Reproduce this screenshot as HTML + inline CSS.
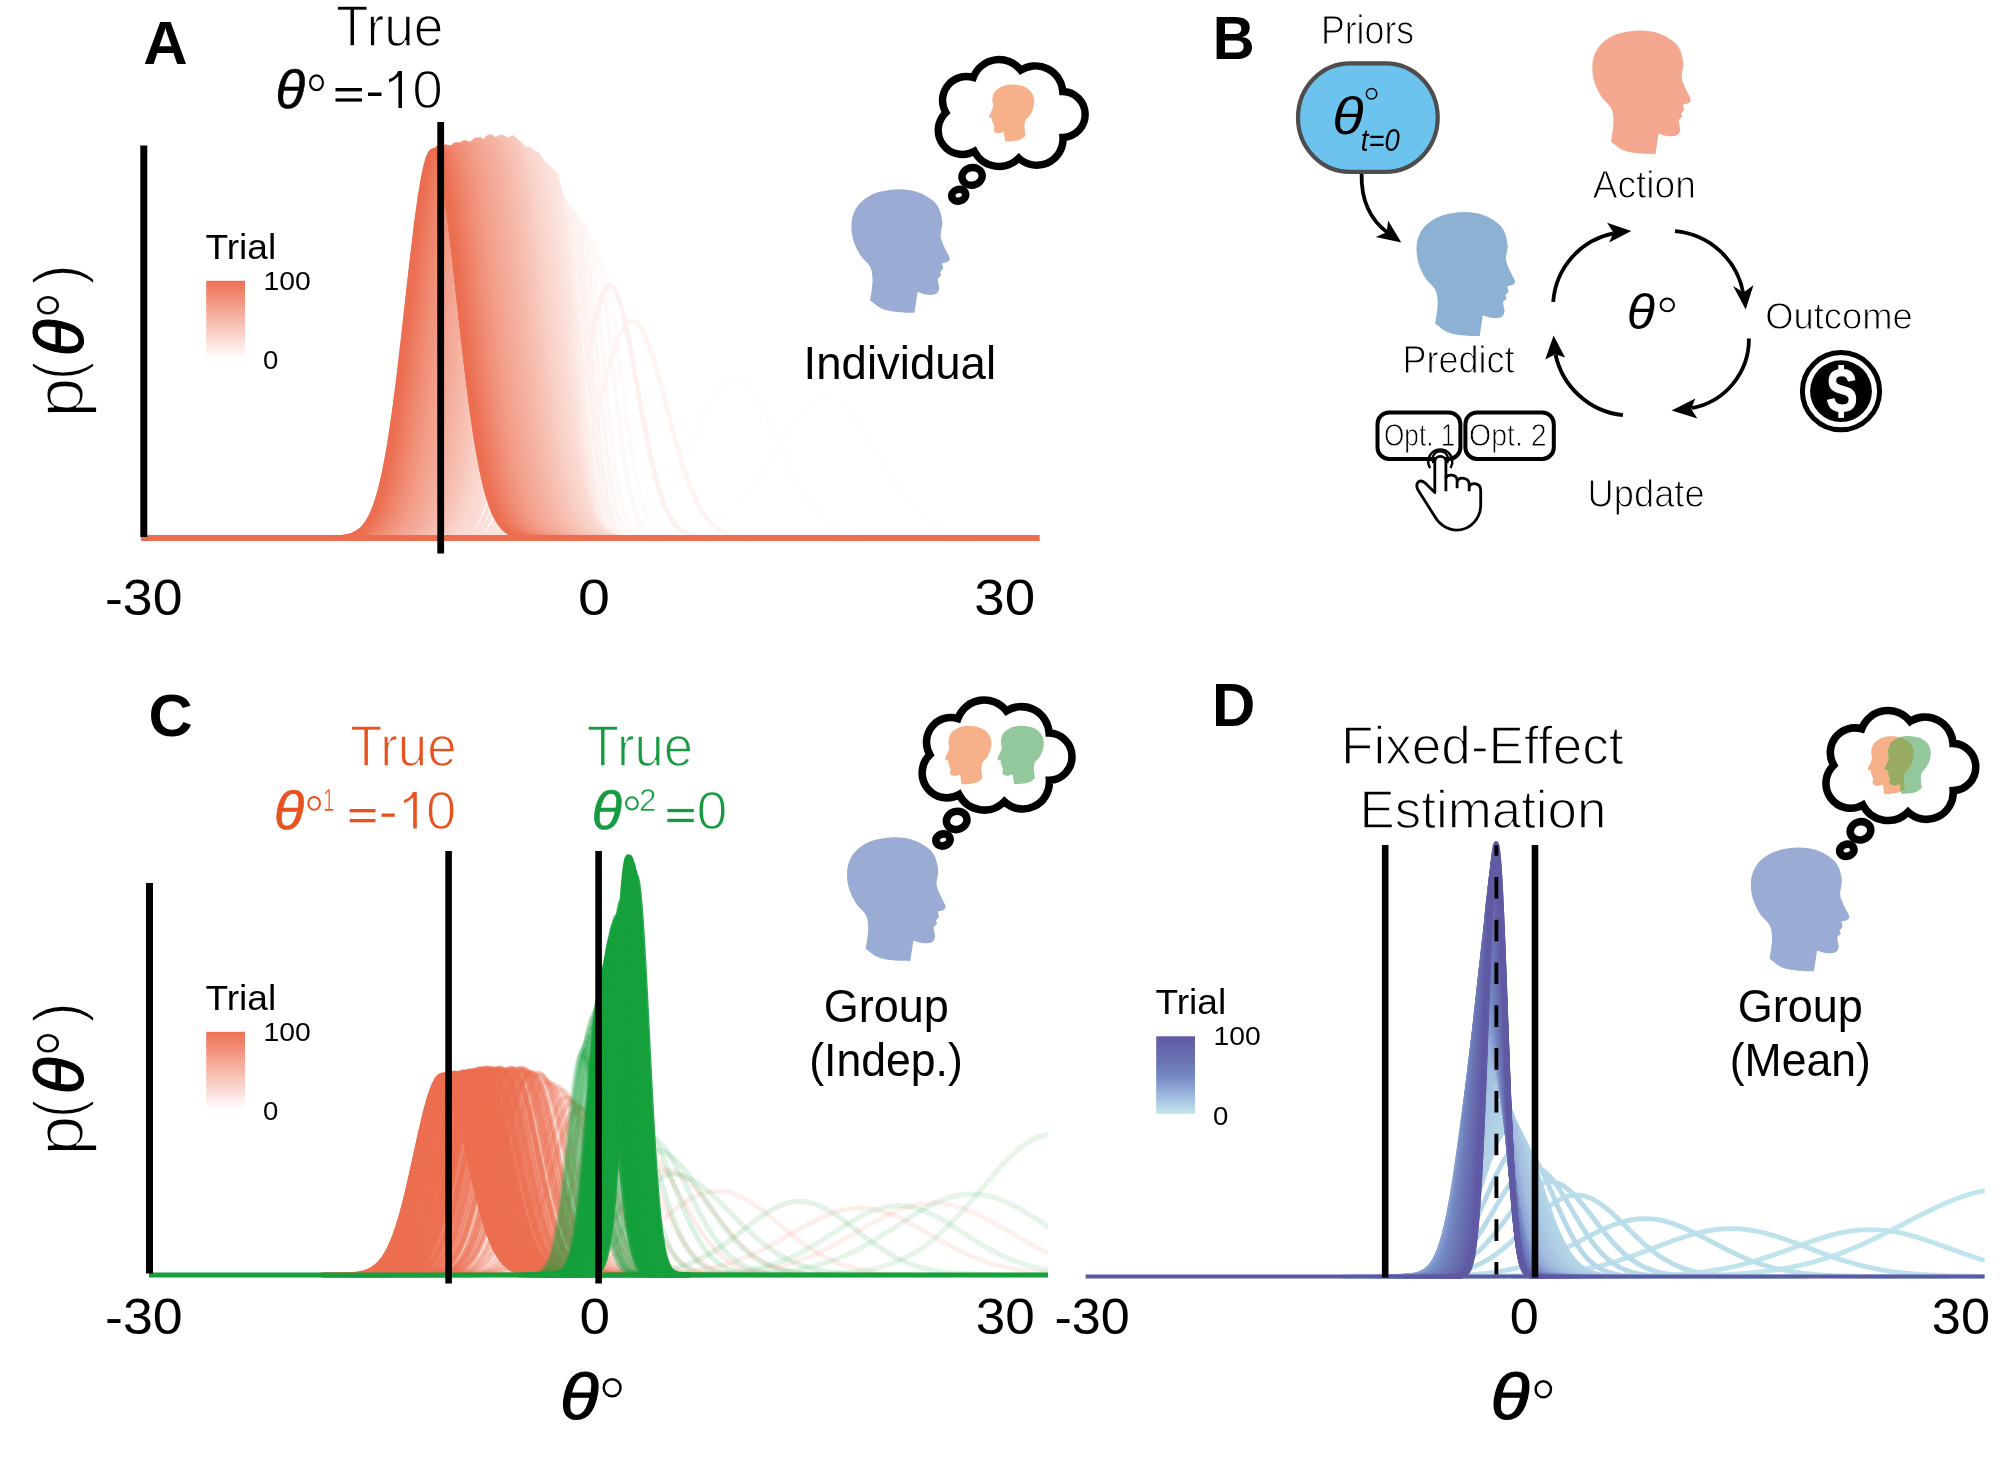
<!DOCTYPE html>
<html lang="en"><head><meta charset="utf-8"><title>Figure</title>
<style>html,body{margin:0;padding:0;background:#fff}svg{display:block;will-change:transform}text{font-family:"Liberation Sans",sans-serif}.g use{fill:none;vector-effect:non-scaling-stroke;stroke-linejoin:round}</style></head><body>
<svg width="2000" height="1475" viewBox="0 0 2000 1475">
<defs>
<path id="g" vector-effect="non-scaling-stroke" d="M-4.6,0 L-4.600,-0.0000 L-4.500,-0.0000 L-4.400,-0.0001 L-4.300,-0.0001 L-4.200,-0.0001 L-4.100,-0.0002 L-4.000,-0.0003 L-3.900,-0.0005 L-3.800,-0.0007 L-3.700,-0.0011 L-3.600,-0.0015 L-3.500,-0.0022 L-3.400,-0.0031 L-3.300,-0.0043 L-3.200,-0.0060 L-3.100,-0.0082 L-3.000,-0.0111 L-2.900,-0.0149 L-2.800,-0.0198 L-2.700,-0.0261 L-2.600,-0.0340 L-2.500,-0.0439 L-2.400,-0.0561 L-2.300,-0.0710 L-2.200,-0.0889 L-2.100,-0.1103 L-2.000,-0.1353 L-1.900,-0.1645 L-1.800,-0.1979 L-1.700,-0.2357 L-1.600,-0.2780 L-1.500,-0.3247 L-1.400,-0.3753 L-1.300,-0.4296 L-1.200,-0.4868 L-1.100,-0.5461 L-1.000,-0.6065 L-0.900,-0.6670 L-0.800,-0.7261 L-0.700,-0.7827 L-0.600,-0.8353 L-0.500,-0.8825 L-0.400,-0.9231 L-0.300,-0.9560 L-0.200,-0.9802 L-0.100,-0.9950 L0.000,-1.0000 L0.100,-0.9950 L0.200,-0.9802 L0.300,-0.9560 L0.400,-0.9231 L0.500,-0.8825 L0.600,-0.8353 L0.700,-0.7827 L0.800,-0.7261 L0.900,-0.6670 L1.000,-0.6065 L1.100,-0.5461 L1.200,-0.4868 L1.300,-0.4296 L1.400,-0.3753 L1.500,-0.3247 L1.600,-0.2780 L1.700,-0.2357 L1.800,-0.1979 L1.900,-0.1645 L2.000,-0.1353 L2.100,-0.1103 L2.200,-0.0889 L2.300,-0.0710 L2.400,-0.0561 L2.500,-0.0439 L2.600,-0.0340 L2.700,-0.0261 L2.800,-0.0198 L2.900,-0.0149 L3.000,-0.0111 L3.100,-0.0082 L3.200,-0.0060 L3.300,-0.0043 L3.400,-0.0031 L3.500,-0.0022 L3.600,-0.0015 L3.700,-0.0011 L3.800,-0.0007 L3.900,-0.0005 L4.000,-0.0003 L4.100,-0.0002 L4.200,-0.0001 L4.300,-0.0001 L4.400,-0.0001 L4.500,-0.0000 L4.600,-0.0000 L4.6,0"/>
<path id="gl" vector-effect="non-scaling-stroke" d="M-4.600,-0.0000 L-4.500,-0.0000 L-4.400,-0.0001 L-4.300,-0.0001 L-4.200,-0.0001 L-4.100,-0.0002 L-4.000,-0.0003 L-3.900,-0.0005 L-3.800,-0.0007 L-3.700,-0.0011 L-3.600,-0.0015 L-3.500,-0.0022 L-3.400,-0.0031 L-3.300,-0.0043 L-3.200,-0.0060 L-3.100,-0.0082 L-3.000,-0.0111 L-2.900,-0.0149 L-2.800,-0.0198 L-2.700,-0.0261 L-2.600,-0.0340 L-2.500,-0.0439 L-2.400,-0.0561 L-2.300,-0.0710 L-2.200,-0.0889 L-2.100,-0.1103 L-2.000,-0.1353 L-1.900,-0.1645 L-1.800,-0.1979 L-1.700,-0.2357 L-1.600,-0.2780 L-1.500,-0.3247 L-1.400,-0.3753 L-1.300,-0.4296 L-1.200,-0.4868 L-1.100,-0.5461 L-1.000,-0.6065 L-0.900,-0.6670 L-0.800,-0.7261 L-0.700,-0.7827 L-0.600,-0.8353 L-0.500,-0.8825 L-0.400,-0.9231 L-0.300,-0.9560 L-0.200,-0.9802 L-0.100,-0.9950 L-0.000,-1.0000"/>
<path id="gr" vector-effect="non-scaling-stroke" d="M0.000,-1.0000 L0.100,-0.9950 L0.200,-0.9802 L0.300,-0.9560 L0.400,-0.9231 L0.500,-0.8825 L0.600,-0.8353 L0.700,-0.7827 L0.800,-0.7261 L0.900,-0.6670 L1.000,-0.6065 L1.100,-0.5461 L1.200,-0.4868 L1.300,-0.4296 L1.400,-0.3753 L1.500,-0.3247 L1.600,-0.2780 L1.700,-0.2357 L1.800,-0.1979 L1.900,-0.1645 L2.000,-0.1353 L2.100,-0.1103 L2.200,-0.0889 L2.300,-0.0710 L2.400,-0.0561 L2.500,-0.0439 L2.600,-0.0340 L2.700,-0.0261 L2.800,-0.0198 L2.900,-0.0149 L3.000,-0.0111 L3.100,-0.0082 L3.200,-0.0060 L3.300,-0.0043 L3.400,-0.0031 L3.500,-0.0022 L3.600,-0.0015 L3.700,-0.0011 L3.800,-0.0007 L3.900,-0.0005 L4.000,-0.0003 L4.100,-0.0002 L4.200,-0.0001 L4.300,-0.0001 L4.400,-0.0001 L4.500,-0.0000 L4.600,-0.0000"/>
<path id="hd" d="M19.00,113.20 C19.33,111.00 20.60,103.88 21.00,100.00 C21.40,96.12 21.73,93.43 21.40,89.90 C21.07,86.37 21.02,82.52 19.00,78.80 C16.98,75.08 12.10,71.95 9.30,67.60 C6.50,63.25 3.75,57.67 2.20,52.70 C0.65,47.73 0.00,42.45 0.00,37.80 C0.00,33.15 0.50,28.98 2.20,24.80 C3.90,20.62 6.22,16.27 10.20,12.70 C14.18,9.13 19.73,5.52 26.10,3.40 C32.47,1.28 41.58,0.10 48.40,0.00 C55.22,-0.10 61.42,1.00 67.00,2.80 C72.58,4.60 78.17,7.92 81.90,10.80 C85.63,13.68 87.62,16.22 89.40,20.10 C91.18,23.98 92.35,29.60 92.60,34.10 C92.85,38.60 90.73,43.37 90.90,47.10 C91.07,50.83 92.15,52.93 93.60,56.50 C95.05,60.07 98.60,66.50 99.60,68.50 C99.67,69.00 100.27,70.62 100.00,71.50 C99.73,72.38 99.30,73.15 98.00,73.80 C96.70,74.45 93.17,75.13 92.20,75.40 L93.50,80.60 L90.30,84.70 L91.60,87.70 L87.90,91.40 C88.02,92.17 88.35,94.38 88.60,96.00 C88.85,97.62 89.63,99.47 89.40,101.10 C89.17,102.73 88.45,104.72 87.20,105.80 C85.95,106.88 84.02,107.38 81.90,107.60 C79.78,107.82 76.92,107.57 74.50,107.10 C72.08,106.63 68.58,105.18 67.40,104.80 L64.20,125.90 C61.57,125.80 53.82,125.95 48.40,125.30 C42.98,124.65 36.60,124.02 31.70,122.00 C26.80,119.98 21.12,114.67 19.00,113.20Z"/>
<path id="cl" d="M39.91,21.60 A27.47,27.47 0 0 1 87.38,14.28 A27.33,27.33 0 0 1 129.36,35.64 A22.95,22.95 0 0 1 129.61,81.52 A26.26,26.26 0 0 1 85.43,102.27 A27.82,27.82 0 0 1 41.01,95.44 A24.22,24.22 0 0 1 12.45,56.75 A23.96,23.96 0 0 1 39.91,21.60Z"/>
<g id="tb"><use href="#cl" fill="#fff" stroke="#000" stroke-width="7.4" stroke-linejoin="miter" stroke-miterlimit="10"/><ellipse cx="38.7" cy="120.5" rx="10.2" ry="8.8" fill="#fff" stroke="#000" stroke-width="7.4" transform="rotate(-15 38.7 120.5)"/><ellipse cx="25.3" cy="139.4" rx="7.0" ry="5.8" fill="#fff" stroke="#000" stroke-width="7.6" transform="rotate(-15 25.3 139.4)"/></g>
<linearGradient id="lgA" x1="0" y1="0" x2="0" y2="1"><stop offset="0" stop-color="#ee6f54"/><stop offset="1" stop-color="#ffffff"/></linearGradient>
<linearGradient id="lgD" x1="0" y1="0" x2="0" y2="1"><stop offset="0" stop-color="#6059a3"/><stop offset="0.33" stop-color="#6b74b5"/><stop offset="0.52" stop-color="#7489c3"/><stop offset="0.72" stop-color="#98afda"/><stop offset="1" stop-color="#c4e9ef"/></linearGradient>
<clipPath id="cpA"><rect x="138" y="100" width="904.5" height="445"/></clipPath>
<clipPath id="cpC"><rect x="146" y="840" width="902" height="440"/></clipPath>
<clipPath id="cpD"><rect x="1085.5" y="835" width="899.2" height="446"/></clipPath>
</defs>
<rect width="2000" height="1475" fill="#fff"/>
<g class="g" clip-path="url(#cpA)" stroke-width="4.6">
<use href="#g" transform="translate(825.5,538.0) scale(51.00,141.0)" stroke="#fffefd"/>
<use href="#g" transform="translate(734.9,538.0) scale(43.00,159.0)" stroke="#fffcfc"/>
<use href="#g" transform="translate(599.4,538.0) scale(21.00,278.0)" stroke="#fefbfa"/>
<use href="#g" transform="translate(592.6,538.0) scale(19.50,292.0)" stroke="#fef9f8"/>
<use href="#g" transform="translate(585.0,538.0) scale(17.50,312.0)" stroke="#fef8f6"/>
<use href="#g" transform="translate(579.2,538.0) scale(17.00,318.0)" stroke="#fef6f4"/>
<use href="#g" transform="translate(632.5,538.0) scale(34.00,217.0)" stroke="#fef5f3"/>
<use href="#g" transform="translate(573.9,538.0) scale(16.50,325.0)" stroke="#fdf3f1"/>
<use href="#g" transform="translate(568.7,538.0) scale(16.50,331.0)" stroke="#fdf2ef"/>
<use href="#g" transform="translate(609.9,538.0) scale(27.00,252.7)" stroke="#fdf0ee"/>
<use href="#g" transform="translate(563.0,538.0) scale(16.50,338.0)" stroke="#fdefec"/>
<use href="#g" transform="translate(560.2,538.0) scale(16.60,343.4)" stroke="#fdeeea"/>
<use href="#g" transform="translate(558.8,538.0) scale(16.70,347.0)" stroke="#fdece8"/>
<use href="#g" transform="translate(557.9,538.0) scale(16.80,349.9)" stroke="#fcebe6"/>
<use href="#g" transform="translate(553.9,538.0) scale(16.87,355.6)" stroke="#fce9e5"/>
<use href="#g" transform="translate(553.0,538.0) scale(16.93,359.8)" stroke="#fce8e3"/>
<use href="#g" transform="translate(553.8,538.0) scale(17.00,365.9)" stroke="#fce6e1"/>
<use href="#g" transform="translate(550.7,538.0) scale(18.00,369.0)" stroke="#fce5e0"/>
<use href="#g" transform="translate(547.4,538.0) scale(19.00,370.9)" stroke="#fbe3de"/>
<use href="#g" transform="translate(544.8,538.0) scale(20.00,373.6)" stroke="#fbe2dc"/>
<use href="#g" transform="translate(541.4,538.0) scale(21.33,377.0)" stroke="#fbe1da"/>
<use href="#g" transform="translate(539.0,538.0) scale(22.67,379.5)" stroke="#fbdfd8"/>
<use href="#g" transform="translate(536.4,538.0) scale(24.00,384.5)" stroke="#fbded7"/>
<use href="#g" transform="translate(533.1,538.0) scale(24.32,384.2)" stroke="#fadcd5"/>
<use href="#g" transform="translate(532.4,538.0) scale(24.64,386.2)" stroke="#fadbd3"/>
<use href="#g" transform="translate(530.2,538.0) scale(24.96,388.2)" stroke="#fad9d2"/>
<use href="#g" transform="translate(528.3,538.0) scale(25.28,389.1)" stroke="#fad8d0"/>
<use href="#g" transform="translate(525.8,538.0) scale(25.60,388.8)" stroke="#fad6ce"/>
<use href="#g" transform="translate(523.8,538.0) scale(25.55,390.5)" stroke="#f9d5cc"/>
<use href="#g" transform="translate(522.7,538.0) scale(25.50,390.3)" stroke="#f9d4ca"/>
<use href="#g" transform="translate(519.1,538.0) scale(25.45,392.1)" stroke="#f9d2c9"/>
<use href="#g" transform="translate(518.7,538.0) scale(25.40,394.9)" stroke="#f9d1c7"/>
<use href="#g" transform="translate(516.7,538.0) scale(25.38,396.0)" stroke="#f9cfc5"/>
<use href="#g" transform="translate(515.2,538.0) scale(25.36,397.7)" stroke="#f9cec4"/>
<use href="#g" transform="translate(513.6,538.0) scale(25.34,399.3)" stroke="#f8ccc2"/>
<use href="#g" transform="translate(512.8,538.0) scale(25.32,400.3)" stroke="#f8cbc0"/>
<use href="#g" transform="translate(511.7,538.0) scale(25.30,400.0)" stroke="#f8c9be"/>
<use href="#g" transform="translate(510.7,538.0) scale(25.30,399.0)" stroke="#f8c8bc"/>
<use href="#g" transform="translate(508.9,538.0) scale(25.30,396.8)" stroke="#f8c6bb"/>
<use href="#g" transform="translate(508.0,538.0) scale(25.30,397.9)" stroke="#f7c5b9"/>
<use href="#g" transform="translate(506.7,538.0) scale(25.30,398.0)" stroke="#f7c4b7"/>
<use href="#g" transform="translate(504.9,538.0) scale(25.30,398.6)" stroke="#f7c2b6"/>
<use href="#g" transform="translate(503.8,538.0) scale(25.30,400.3)" stroke="#f7c1b4"/>
<use href="#g" transform="translate(501.3,538.0) scale(25.30,400.0)" stroke="#f7bfb2"/>
<use href="#g" transform="translate(501.1,538.0) scale(25.30,401.1)" stroke="#f6beb0"/>
<use href="#g" transform="translate(498.1,538.0) scale(25.30,399.8)" stroke="#f6bcae"/>
<use href="#g" transform="translate(497.4,538.0) scale(25.30,397.8)" stroke="#f6bbad"/>
<use href="#g" transform="translate(495.8,538.0) scale(25.30,398.3)" stroke="#f6b9ab"/>
<use href="#g" transform="translate(495.6,538.0) scale(25.30,397.5)" stroke="#f6b8a9"/>
<use href="#g" transform="translate(493.6,538.0) scale(25.31,398.3)" stroke="#f6b6a8"/>
<use href="#g" transform="translate(492.4,538.0) scale(25.32,399.7)" stroke="#f5b5a6"/>
<use href="#g" transform="translate(491.3,538.0) scale(25.33,401.3)" stroke="#f5b4a4"/>
<use href="#g" transform="translate(489.1,538.0) scale(25.34,401.1)" stroke="#f5b2a2"/>
<use href="#g" transform="translate(487.2,538.0) scale(25.36,398.5)" stroke="#f5b1a0"/>
<use href="#g" transform="translate(486.4,538.0) scale(25.37,397.1)" stroke="#f5af9f"/>
<use href="#g" transform="translate(484.1,538.0) scale(25.38,396.7)" stroke="#f4ae9d"/>
<use href="#g" transform="translate(483.5,538.0) scale(25.39,396.1)" stroke="#f4ac9b"/>
<use href="#g" transform="translate(480.9,538.0) scale(25.40,397.8)" stroke="#f4ab9a"/>
<use href="#g" transform="translate(479.7,538.0) scale(25.41,398.7)" stroke="#f4a998"/>
<use href="#g" transform="translate(479.1,538.0) scale(25.43,398.3)" stroke="#f4a896"/>
<use href="#g" transform="translate(476.5,538.0) scale(25.44,398.3)" stroke="#f3a794"/>
<use href="#g" transform="translate(475.1,538.0) scale(25.46,397.4)" stroke="#f3a592"/>
<use href="#g" transform="translate(473.2,538.0) scale(25.47,395.8)" stroke="#f3a491"/>
<use href="#g" transform="translate(472.2,538.0) scale(25.49,394.2)" stroke="#f3a28f"/>
<use href="#g" transform="translate(469.4,538.0) scale(25.50,393.8)" stroke="#f3a18d"/>
<use href="#g" transform="translate(467.9,538.0) scale(25.52,393.3)" stroke="#f29f8c"/>
<use href="#g" transform="translate(468.3,538.0) scale(25.54,394.5)" stroke="#f29e8a"/>
<use href="#g" transform="translate(466.3,538.0) scale(25.56,394.5)" stroke="#f29c88"/>
<use href="#g" transform="translate(465.0,538.0) scale(25.58,395.7)" stroke="#f29b86"/>
<use href="#g" transform="translate(463.0,538.0) scale(25.60,395.2)" stroke="#f29a84"/>
<use href="#g" transform="translate(463.2,538.0) scale(25.62,393.0)" stroke="#f29883"/>
<use href="#g" transform="translate(462.1,538.0) scale(25.64,392.3)" stroke="#f19781"/>
<use href="#g" transform="translate(461.1,538.0) scale(25.66,391.2)" stroke="#f1957f"/>
<use href="#g" transform="translate(460.1,538.0) scale(25.68,391.7)" stroke="#f1947e"/>
<use href="#g" transform="translate(457.5,538.0) scale(25.70,391.3)" stroke="#f1927c"/>
<use href="#g" transform="translate(457.8,538.0) scale(25.72,393.7)" stroke="#f1917a"/>
<use href="#g" transform="translate(455.8,538.0) scale(25.74,393.4)" stroke="#f08f78"/>
<use href="#g" transform="translate(455.4,538.0) scale(25.76,392.9)" stroke="#f08e76"/>
<use href="#g" transform="translate(453.8,538.0) scale(25.78,391.9)" stroke="#f08c75"/>
<use href="#g" transform="translate(452.7,538.0) scale(25.80,390.9)" stroke="#f08b73"/>
<use href="#g" transform="translate(451.5,538.0) scale(25.82,389.4)" stroke="#f08a71"/>
<use href="#g" transform="translate(451.4,538.0) scale(25.84,388.4)" stroke="#ef8870"/>
<use href="#g" transform="translate(449.9,538.0) scale(25.86,390.0)" stroke="#ef876e"/>
<use href="#g" transform="translate(448.2,538.0) scale(25.88,390.1)" stroke="#ef856c"/>
<use href="#g" transform="translate(448.2,538.0) scale(25.90,390.9)" stroke="#ef846a"/>
<use href="#g" transform="translate(445.9,538.0) scale(25.91,391.3)" stroke="#ef8268"/>
<use href="#g" transform="translate(446.0,538.0) scale(25.91,390.1)" stroke="#ee8167"/>
<use href="#g" transform="translate(444.3,538.0) scale(25.92,389.2)" stroke="#ee7f65"/>
<use href="#g" transform="translate(444.4,538.0) scale(25.93,388.2)" stroke="#ee7e63"/>
<use href="#g" transform="translate(443.5,538.0) scale(25.93,387.1)" stroke="#ee7c62"/>
<use href="#g" transform="translate(441.4,538.0) scale(25.94,388.1)" stroke="#ee7b60"/>
<use href="#g" transform="translate(441.6,538.0) scale(25.95,388.7)" stroke="#ee7a5e"/>
<use href="#g" transform="translate(439.3,538.0) scale(25.95,389.1)" stroke="#ed785c"/>
<use href="#g" transform="translate(439.0,538.0) scale(25.96,389.7)" stroke="#ed775a"/>
<use href="#g" transform="translate(438.6,538.0) scale(25.97,390.4)" stroke="#ed7559"/>
<use href="#g" transform="translate(436.3,538.0) scale(25.97,388.4)" stroke="#ed7457"/>
<use href="#g" transform="translate(436.7,538.0) scale(25.98,387.6)" stroke="#ed7255"/>
<use href="#g" transform="translate(435.7,538.0) scale(25.99,386.2)" stroke="#ec7154"/>
<use href="#g" transform="translate(433.3,538.0) scale(25.99,386.1)" stroke="#ec6f52"/>
<use href="#g" transform="translate(433.1,538.0) scale(26.00,387.7)" stroke="#ec6e50"/>
</g>
<line x1="141" y1="538" x2="1039.7" y2="538" stroke="#ec6e50" stroke-width="6"/>
<line x1="143.8" y1="145.6" x2="143.8" y2="537" stroke="#000" stroke-width="7"/>
<line x1="440.7" y1="122" x2="440.7" y2="553.5" stroke="#000" stroke-width="6.8"/>
<text x="143.22" y="63.70" font-size="61.5" textLength="44.38" lengthAdjust="spacingAndGlyphs" font-weight="bold">A</text>
<text x="1212.67" y="58.60" font-size="61.5" textLength="41.96" lengthAdjust="spacingAndGlyphs" font-weight="bold">B</text>
<text x="148.59" y="736.10" font-size="60.0" textLength="44.17" lengthAdjust="spacingAndGlyphs" font-weight="bold">C</text>
<text x="1212.04" y="725.90" font-size="62.0" textLength="43.33" lengthAdjust="spacingAndGlyphs" font-weight="bold">D</text>
<text x="335.89" y="45.60" font-size="57.0" textLength="107.50" lengthAdjust="spacingAndGlyphs" stroke="#fff" stroke-width="1.48">True</text>
<text x="275.63" y="108.40" font-size="53.2" textLength="29.53" lengthAdjust="spacingAndGlyphs" font-style="italic" stroke="#000" stroke-width="0.60" stroke-linejoin="round">θ</text>
<ellipse cx="316.50" cy="82.75" rx="6.45" ry="7.40" fill="none" stroke="#000" stroke-width="2.10"/>
<rect x="335.5" y="88.0" width="26.5" height="3.4" fill="#000"/>
<rect x="335.5" y="98.4" width="26.5" height="3.2" fill="#000"/>
<rect x="368.0" y="92.5" width="13.5" height="3.5" fill="#000"/>
<path d="M398.4,71.0 L402.0,71.0 L402.0,108.0 L398.4,108.0 L398.4,76.2 Q394.2,80.6 389.0,82.5 L389.0,79.1 Q395.6,77.3 398.1,71.0 Z" fill="#000"/>
<text x="412.16" y="108.10" font-size="53.2" textLength="30.63" lengthAdjust="spacingAndGlyphs" stroke="#fff" stroke-width="1.38">0</text>
<text x="104.94" y="615.00" font-size="49.5" textLength="77.52" lengthAdjust="spacingAndGlyphs">-30</text>
<text x="578.06" y="615.00" font-size="49.5" textLength="31.93" lengthAdjust="spacingAndGlyphs">0</text>
<text x="974.22" y="615.00" font-size="49.5" textLength="60.88" lengthAdjust="spacingAndGlyphs">30</text>
<text x="205.48" y="258.50" font-size="35.9" textLength="70.77" lengthAdjust="spacingAndGlyphs">Trial</text>
<rect x="206.2" y="280.8" width="38.8" height="77.7" fill="url(#lgA)"/>
<text x="263.45" y="289.90" font-size="26.3" textLength="47.24" lengthAdjust="spacingAndGlyphs">100</text>
<text x="263.13" y="369.10" font-size="26.3" textLength="15.33" lengthAdjust="spacingAndGlyphs">0</text>
<text x="205.48" y="1009.50" font-size="35.9" textLength="70.77" lengthAdjust="spacingAndGlyphs">Trial</text>
<rect x="206.2" y="1031.8" width="38.8" height="77.7" fill="url(#lgA)"/>
<text x="263.45" y="1040.90" font-size="26.3" textLength="47.24" lengthAdjust="spacingAndGlyphs">100</text>
<text x="263.13" y="1120.10" font-size="26.3" textLength="15.33" lengthAdjust="spacingAndGlyphs">0</text>
<text x="1155.48" y="1014.00" font-size="35.9" textLength="70.77" lengthAdjust="spacingAndGlyphs">Trial</text>
<rect x="1156.2" y="1036.3" width="38.8" height="77.7" fill="url(#lgD)"/>
<text x="1213.45" y="1045.40" font-size="26.3" textLength="47.24" lengthAdjust="spacingAndGlyphs">100</text>
<text x="1213.13" y="1124.60" font-size="26.3" textLength="15.33" lengthAdjust="spacingAndGlyphs">0</text>
<g transform="translate(82.6,412.2) rotate(-90)">
<text x="-5.52" y="0.00" font-size="68.0" textLength="40.28" lengthAdjust="spacingAndGlyphs" stroke="#fff" stroke-width="1.77">p</text>
<text x="32.31" y="-3.00" font-size="66.0" textLength="18.42" lengthAdjust="spacingAndGlyphs" stroke="#fff" stroke-width="1.72">(</text>
<text x="55.88" y="0.70" font-size="69.0" textLength="36.80" lengthAdjust="spacingAndGlyphs" font-style="italic" stroke="#000" stroke-width="1.20" stroke-linejoin="round">θ</text>
<ellipse cx="106.95" cy="-34.60" rx="8.05" ry="9.70" fill="none" stroke="#000" stroke-width="2.60"/>
<text x="127.33" y="-3.00" font-size="66.0" textLength="20.55" lengthAdjust="spacingAndGlyphs" stroke="#fff" stroke-width="1.72">)</text>
</g>
<g transform="translate(82.6,1150.2) rotate(-90)">
<text x="-5.52" y="0.00" font-size="68.0" textLength="40.28" lengthAdjust="spacingAndGlyphs" stroke="#fff" stroke-width="1.77">p</text>
<text x="32.31" y="-3.00" font-size="66.0" textLength="18.42" lengthAdjust="spacingAndGlyphs" stroke="#fff" stroke-width="1.72">(</text>
<text x="55.88" y="0.70" font-size="69.0" textLength="36.80" lengthAdjust="spacingAndGlyphs" font-style="italic" stroke="#000" stroke-width="1.20" stroke-linejoin="round">θ</text>
<ellipse cx="106.95" cy="-34.60" rx="8.05" ry="9.70" fill="none" stroke="#000" stroke-width="2.60"/>
<text x="127.33" y="-3.00" font-size="66.0" textLength="20.55" lengthAdjust="spacingAndGlyphs" stroke="#fff" stroke-width="1.72">)</text>
</g>
<use href="#hd" transform="translate(851.40,189.20) scale(0.9820)" fill="#9bacd4"/>
<use href="#tb" x="933.4" y="55.9"/>
<use href="#hd" transform="translate(1034.20,84.50) scale(-0.4520,0.4520)" fill="#f6b08a"/>
<text x="803.61" y="378.90" font-size="47.0" textLength="192.40" lengthAdjust="spacingAndGlyphs">Individual</text>
<text x="1320.96" y="43.90" font-size="39.8" textLength="93.16" lengthAdjust="spacingAndGlyphs" stroke="#fff" stroke-width="1.03">Priors</text>
<rect x="1298" y="63.3" width="139.7" height="108.6" rx="52" ry="54.3" fill="#6cc4ee" stroke="#4d4d4d" stroke-width="4.2"/>
<text x="1332.17" y="133.60" font-size="52.5" textLength="31.32" lengthAdjust="spacingAndGlyphs" font-style="italic">θ</text>
<ellipse cx="1371.55" cy="93.75" rx="5.20" ry="5.20" fill="none" stroke="#000" stroke-width="1.50"/>
<text x="1360.76" y="151.00" font-size="31.0" textLength="38.96" lengthAdjust="spacingAndGlyphs" font-style="italic">t=0</text>
<path d="M1361.6,173.9 C1361,200 1369,219 1388,233" fill="none" stroke="#000" stroke-width="3.8"/>
<path d="M1401.3,242.5 L1375.7,237 L1386.7,232.3 L1388.1,220.5 Z" fill="#000"/>
<use href="#hd" transform="translate(1592.30,30.40) scale(0.9830)" fill="#f4a78f"/>
<text x="1592.63" y="197.50" font-size="38.5" textLength="103.26" lengthAdjust="spacingAndGlyphs" stroke="#fff" stroke-width="1.00">Action</text>
<use href="#hd" transform="translate(1416.50,212.10) scale(0.9840)" fill="#8cb1d3"/>
<text x="1402.53" y="373.10" font-size="39.5" textLength="112.11" lengthAdjust="spacingAndGlyphs" stroke="#fff" stroke-width="1.03">Predict</text>
<text x="1765.20" y="328.70" font-size="37.6" textLength="147.49" lengthAdjust="spacingAndGlyphs" stroke="#fff" stroke-width="0.98">Outcome</text>
<text x="1587.61" y="506.60" font-size="38.5" textLength="117.01" lengthAdjust="spacingAndGlyphs" stroke="#fff" stroke-width="1.00">Update</text>
<path d="M1553.2,301.8 A75.4,75.4 0 0 1 1613.4,233.4" fill="none" stroke="#000" stroke-width="3.8"/>
<path d="M1675.0,231.1 A76.1,76.1 0 0 1 1743.4,294.0" fill="none" stroke="#000" stroke-width="3.8"/>
<path d="M1748.9,338.6 A69.9,69.9 0 0 1 1691.5,408.1" fill="none" stroke="#000" stroke-width="3.8"/>
<path d="M1622.9,415.2 A77.5,77.5 0 0 1 1555.5,354.5" fill="none" stroke="#000" stroke-width="3.8"/>
<path d="M1631.3,231.1 L1607.1,222.7 L1613.4,232.5 L1609.2,242.6 Z" fill="#000"/>
<path d="M1745.7,309.6 L1733.1,286.1 L1743.6,292.4 L1753.5,285.0 Z" fill="#000"/>
<path d="M1671.6,410.6 L1695.3,398.4 L1691.1,408.9 L1697.4,418.4 Z" fill="#000"/>
<path d="M1553.6,335.4 L1545.2,359.6 L1555.3,354.3 L1565.1,357.5 Z" fill="#000"/>
<text x="1626.65" y="329.10" font-size="50.0" textLength="28.19" lengthAdjust="spacingAndGlyphs" font-style="italic">θ</text>
<ellipse cx="1667.30" cy="304.95" rx="6.70" ry="6.35" fill="none" stroke="#000" stroke-width="2.00"/>
<circle cx="1841" cy="391.2" r="38.6" fill="none" stroke="#000" stroke-width="5"/>
<circle cx="1841" cy="391.2" r="30.9" fill="#000"/>
<text x="1826.19" y="411.30" font-size="59.5" textLength="31.24" lengthAdjust="spacingAndGlyphs" font-weight="bold" fill="#fff" stroke="#fff" stroke-width="1.20" stroke-linejoin="round">S</text>
<rect x="1838.3" y="365" width="5.7" height="7" fill="#fff"/><rect x="1838.3" y="410" width="5.7" height="7.9" fill="#fff"/>
<rect x="1377.5" y="412.5" width="82.9" height="46.4" rx="11.5" fill="#fff" stroke="#000" stroke-width="4"/>
<rect x="1465.4" y="412.5" width="88.4" height="46.4" rx="11.5" fill="#fff" stroke="#000" stroke-width="4"/>
<text x="1384.06" y="446.20" font-size="31.6" textLength="71.12" lengthAdjust="spacingAndGlyphs" stroke="#fff" stroke-width="0.82">Opt. 1</text>
<text x="1469.05" y="446.20" font-size="31.6" textLength="77.60" lengthAdjust="spacingAndGlyphs" stroke="#fff" stroke-width="0.82">Opt. 2</text>
<path d="M1430.1,468.0 A12.1,12.1 0 1 1 1450.5,468.0" fill="none" stroke="#000" stroke-width="2.4"/>
<path d="M1433.5,463.0 A7.8,7.8 0 1 1 1447.1,463.0" fill="none" stroke="#000" stroke-width="2.4"/>
<path d="M1434.8,492.4 L1434.8,461.9 C1434.8,454.6 1445.9,454.6 1445.9,461.9 L1445.9,478.2 C1447.7,473.5 1457.1,474.0 1457.1,480.8 L1457.1,481.4 C1459.2,476.4 1469.2,477.2 1469.2,484.5 L1469.2,486.6 C1471.8,481.9 1480.7,482.9 1480.7,490.3 L1480.7,505.0 C1480.7,517.6 1471.3,529.7 1457.1,530.2 C1446.1,530.2 1437.7,522.8 1433.5,514.4 L1418.8,491.3 C1414.1,484.0 1418.8,478.2 1425.1,482.9 L1434.8,492.4 Z" fill="#fff" stroke="#000" stroke-width="2.8" stroke-linejoin="round"/>
<path d="M1445.9,478.2 L1445.9,491.3 M1457.1,481.4 L1457.1,488.2 M1469.2,486.6 L1469.2,491.3" fill="none" stroke="#000" stroke-width="2.8" stroke-linecap="butt"/>
<g class="g" clip-path="url(#cpC)" stroke-width="4.8">
<use href="#g" transform="translate(933.3,1275.0) scale(75.00,72.0)" stroke="#ec6e50" stroke-opacity="0.10"/>
<use href="#g" transform="translate(860.0,1275.0) scale(70.00,67.0)" stroke="#ec6e50" stroke-opacity="0.11"/>
<use href="#g" transform="translate(717.9,1275.0) scale(61.00,84.0)" stroke="#ec6e50" stroke-opacity="0.11"/>
<use href="#gl" transform="translate(665.5,1275.0) scale(46.00,105.0)" stroke="#ec6e50" stroke-opacity="0.12"/>
<use href="#gr" transform="translate(665.5,1275.0) scale(48.00,105.0)" stroke="#ec6e50" stroke-opacity="0.12"/>
<use href="#gl" transform="translate(640.1,1275.0) scale(38.00,125.0)" stroke="#ec6e50" stroke-opacity="0.12"/>
<use href="#gr" transform="translate(640.1,1275.0) scale(42.00,125.0)" stroke="#ec6e50" stroke-opacity="0.12"/>
<use href="#gl" transform="translate(620.6,1275.0) scale(34.00,140.0)" stroke="#ec6e50" stroke-opacity="0.13"/>
<use href="#gr" transform="translate(620.6,1275.0) scale(37.00,140.0)" stroke="#ec6e50" stroke-opacity="0.13"/>
<use href="#gl" transform="translate(605.7,1275.0) scale(32.00,150.0)" stroke="#ec6e50" stroke-opacity="0.13"/>
<use href="#gr" transform="translate(605.7,1275.0) scale(34.00,150.0)" stroke="#ec6e50" stroke-opacity="0.13"/>
<use href="#gl" transform="translate(593.7,1275.0) scale(31.00,158.0)" stroke="#ec6e50" stroke-opacity="0.14"/>
<use href="#gr" transform="translate(593.7,1275.0) scale(32.00,158.0)" stroke="#ec6e50" stroke-opacity="0.14"/>
<use href="#gl" transform="translate(589.9,1275.0) scale(30.50,162.0)" stroke="#ec6e50" stroke-opacity="0.14"/>
<use href="#gr" transform="translate(589.9,1275.0) scale(31.00,162.0)" stroke="#ec6e50" stroke-opacity="0.14"/>
<use href="#g" transform="translate(582.5,1275.0) scale(30.00,166.0)" stroke="#ec6e50" stroke-opacity="0.15"/>
<use href="#g" transform="translate(580.1,1275.0) scale(29.67,167.7)" stroke="#ec6e50" stroke-opacity="0.16"/>
<use href="#g" transform="translate(579.7,1275.0) scale(29.33,168.4)" stroke="#ec6e50" stroke-opacity="0.16"/>
<use href="#g" transform="translate(572.5,1275.0) scale(29.00,171.4)" stroke="#ec6e50" stroke-opacity="0.17"/>
<use href="#g" transform="translate(573.0,1275.0) scale(28.67,173.8)" stroke="#ec6e50" stroke-opacity="0.18"/>
<use href="#g" transform="translate(567.2,1275.0) scale(28.33,176.8)" stroke="#ec6e50" stroke-opacity="0.18"/>
<use href="#g" transform="translate(565.8,1275.0) scale(28.00,178.7)" stroke="#ec6e50" stroke-opacity="0.19"/>
<use href="#g" transform="translate(561.7,1275.0) scale(27.67,184.5)" stroke="#ec6e50" stroke-opacity="0.20"/>
<use href="#g" transform="translate(558.1,1275.0) scale(27.33,187.9)" stroke="#ec6e50" stroke-opacity="0.21"/>
<use href="#g" transform="translate(553.1,1275.0) scale(27.00,190.8)" stroke="#ec6e50" stroke-opacity="0.21"/>
<use href="#g" transform="translate(548.9,1275.0) scale(26.80,191.7)" stroke="#ec6e50" stroke-opacity="0.22"/>
<use href="#g" transform="translate(546.9,1275.0) scale(26.60,193.8)" stroke="#ec6e50" stroke-opacity="0.23"/>
<use href="#g" transform="translate(544.1,1275.0) scale(26.40,195.6)" stroke="#ec6e50" stroke-opacity="0.24"/>
<use href="#g" transform="translate(540.7,1275.0) scale(26.20,199.9)" stroke="#ec6e50" stroke-opacity="0.24"/>
<use href="#g" transform="translate(539.3,1275.0) scale(26.15,201.7)" stroke="#ec6e50" stroke-opacity="0.25"/>
<use href="#g" transform="translate(537.7,1275.0) scale(26.10,202.2)" stroke="#ec6e50" stroke-opacity="0.26"/>
<use href="#g" transform="translate(531.9,1275.0) scale(26.05,203.1)" stroke="#ec6e50" stroke-opacity="0.27"/>
<use href="#g" transform="translate(531.1,1275.0) scale(26.00,202.1)" stroke="#ec6e50" stroke-opacity="0.28"/>
<use href="#g" transform="translate(531.9,1275.0) scale(25.95,202.1)" stroke="#ec6e50" stroke-opacity="0.28"/>
<use href="#g" transform="translate(529.2,1275.0) scale(25.90,202.8)" stroke="#ec6e50" stroke-opacity="0.29"/>
<use href="#g" transform="translate(528.6,1275.0) scale(25.85,202.1)" stroke="#ec6e50" stroke-opacity="0.30"/>
<use href="#g" transform="translate(525.4,1275.0) scale(25.80,204.3)" stroke="#ec6e50" stroke-opacity="0.31"/>
<use href="#g" transform="translate(524.9,1275.0) scale(25.75,205.6)" stroke="#ec6e50" stroke-opacity="0.32"/>
<use href="#g" transform="translate(522.8,1275.0) scale(25.70,205.5)" stroke="#ec6e50" stroke-opacity="0.33"/>
<use href="#g" transform="translate(522.1,1275.0) scale(25.65,207.2)" stroke="#ec6e50" stroke-opacity="0.33"/>
<use href="#g" transform="translate(518.8,1275.0) scale(25.60,206.9)" stroke="#ec6e50" stroke-opacity="0.34"/>
<use href="#g" transform="translate(520.9,1275.0) scale(25.60,206.0)" stroke="#ec6e50" stroke-opacity="0.35"/>
<use href="#g" transform="translate(519.0,1275.0) scale(25.60,203.9)" stroke="#ec6e50" stroke-opacity="0.36"/>
<use href="#g" transform="translate(516.5,1275.0) scale(25.60,205.7)" stroke="#ec6e50" stroke-opacity="0.37"/>
<use href="#g" transform="translate(512.3,1275.0) scale(25.60,205.3)" stroke="#ec6e50" stroke-opacity="0.38"/>
<use href="#g" transform="translate(511.8,1275.0) scale(25.60,206.7)" stroke="#ec6e50" stroke-opacity="0.39"/>
<use href="#g" transform="translate(511.1,1275.0) scale(25.60,207.1)" stroke="#ec6e50" stroke-opacity="0.40"/>
<use href="#g" transform="translate(511.3,1275.0) scale(25.60,206.0)" stroke="#ec6e50" stroke-opacity="0.40"/>
<use href="#g" transform="translate(506.3,1275.0) scale(25.60,205.4)" stroke="#ec6e50" stroke-opacity="0.41"/>
<use href="#g" transform="translate(505.1,1275.0) scale(25.60,204.4)" stroke="#ec6e50" stroke-opacity="0.42"/>
<use href="#g" transform="translate(507.7,1275.0) scale(25.60,205.5)" stroke="#ec6e50" stroke-opacity="0.43"/>
<use href="#g" transform="translate(502.0,1275.0) scale(25.60,205.1)" stroke="#ec6e50" stroke-opacity="0.44"/>
<use href="#g" transform="translate(501.6,1275.0) scale(25.60,205.5)" stroke="#ec6e50" stroke-opacity="0.45"/>
<use href="#g" transform="translate(500.2,1275.0) scale(25.60,207.1)" stroke="#ec6e50" stroke-opacity="0.46"/>
<use href="#g" transform="translate(499.9,1275.0) scale(25.60,206.9)" stroke="#ec6e50" stroke-opacity="0.47"/>
<use href="#g" transform="translate(496.5,1275.0) scale(25.60,206.6)" stroke="#ec6e50" stroke-opacity="0.48"/>
<use href="#g" transform="translate(494.7,1275.0) scale(25.60,206.2)" stroke="#ec6e50" stroke-opacity="0.49"/>
<use href="#g" transform="translate(496.0,1275.0) scale(25.60,204.9)" stroke="#ec6e50" stroke-opacity="0.50"/>
<use href="#g" transform="translate(491.5,1275.0) scale(25.60,204.2)" stroke="#ec6e50" stroke-opacity="0.51"/>
<use href="#g" transform="translate(491.4,1275.0) scale(25.60,205.4)" stroke="#ec6e50" stroke-opacity="0.52"/>
<use href="#g" transform="translate(491.8,1275.0) scale(25.60,205.8)" stroke="#ec6e50" stroke-opacity="0.53"/>
<use href="#g" transform="translate(490.4,1275.0) scale(25.60,207.1)" stroke="#ec6e50" stroke-opacity="0.54"/>
<use href="#g" transform="translate(487.2,1275.0) scale(25.60,206.9)" stroke="#ec6e50" stroke-opacity="0.55"/>
<use href="#g" transform="translate(486.0,1275.0) scale(25.60,207.2)" stroke="#ec6e50" stroke-opacity="0.56"/>
<use href="#g" transform="translate(484.6,1275.0) scale(25.62,206.1)" stroke="#ec6e50" stroke-opacity="0.57"/>
<use href="#g" transform="translate(483.7,1275.0) scale(25.63,204.2)" stroke="#ec6e50" stroke-opacity="0.58"/>
<use href="#g" transform="translate(483.0,1275.0) scale(25.65,204.7)" stroke="#ec6e50" stroke-opacity="0.59"/>
<use href="#g" transform="translate(479.8,1275.0) scale(25.67,204.4)" stroke="#ec6e50" stroke-opacity="0.60"/>
<use href="#g" transform="translate(480.4,1275.0) scale(25.68,206.1)" stroke="#ec6e50" stroke-opacity="0.61"/>
<use href="#g" transform="translate(481.8,1275.0) scale(25.70,205.7)" stroke="#ec6e50" stroke-opacity="0.62"/>
<use href="#g" transform="translate(480.6,1275.0) scale(25.72,206.6)" stroke="#ec6e50" stroke-opacity="0.63"/>
<use href="#g" transform="translate(476.5,1275.0) scale(25.73,205.3)" stroke="#ec6e50" stroke-opacity="0.64"/>
<use href="#g" transform="translate(474.8,1275.0) scale(25.75,204.9)" stroke="#ec6e50" stroke-opacity="0.65"/>
<use href="#g" transform="translate(476.3,1275.0) scale(25.77,204.1)" stroke="#ec6e50" stroke-opacity="0.66"/>
<use href="#g" transform="translate(475.9,1275.0) scale(25.78,203.3)" stroke="#ec6e50" stroke-opacity="0.67"/>
<use href="#g" transform="translate(474.6,1275.0) scale(25.80,203.5)" stroke="#ec6e50" stroke-opacity="0.68"/>
<use href="#g" transform="translate(470.5,1275.0) scale(25.82,204.3)" stroke="#ec6e50" stroke-opacity="0.69"/>
<use href="#g" transform="translate(469.0,1275.0) scale(25.83,204.0)" stroke="#ec6e50" stroke-opacity="0.70"/>
<use href="#g" transform="translate(471.6,1275.0) scale(25.85,203.7)" stroke="#ec6e50" stroke-opacity="0.71"/>
<use href="#g" transform="translate(467.3,1275.0) scale(25.87,203.1)" stroke="#ec6e50" stroke-opacity="0.72"/>
<use href="#g" transform="translate(470.0,1275.0) scale(25.88,202.2)" stroke="#ec6e50" stroke-opacity="0.73"/>
<use href="#g" transform="translate(464.9,1275.0) scale(25.90,202.6)" stroke="#ec6e50" stroke-opacity="0.74"/>
<use href="#g" transform="translate(464.3,1275.0) scale(25.92,202.4)" stroke="#ec6e50" stroke-opacity="0.75"/>
<use href="#g" transform="translate(465.9,1275.0) scale(25.93,202.8)" stroke="#ec6e50" stroke-opacity="0.76"/>
<use href="#g" transform="translate(466.2,1275.0) scale(25.95,203.1)" stroke="#ec6e50" stroke-opacity="0.77"/>
<use href="#g" transform="translate(464.4,1275.0) scale(25.97,202.5)" stroke="#ec6e50" stroke-opacity="0.78"/>
<use href="#g" transform="translate(463.2,1275.0) scale(25.98,203.3)" stroke="#ec6e50" stroke-opacity="0.79"/>
<use href="#g" transform="translate(461.9,1275.0) scale(26.00,201.7)" stroke="#ec6e50" stroke-opacity="0.80"/>
<use href="#g" transform="translate(461.0,1275.0) scale(26.02,202.2)" stroke="#ec6e50" stroke-opacity="0.81"/>
<use href="#g" transform="translate(456.7,1275.0) scale(26.03,200.2)" stroke="#ec6e50" stroke-opacity="0.82"/>
<use href="#g" transform="translate(458.0,1275.0) scale(26.05,201.1)" stroke="#ec6e50" stroke-opacity="0.83"/>
<use href="#g" transform="translate(455.4,1275.0) scale(26.07,200.3)" stroke="#ec6e50" stroke-opacity="0.85"/>
<use href="#g" transform="translate(454.4,1275.0) scale(26.08,202.0)" stroke="#ec6e50" stroke-opacity="0.86"/>
<use href="#g" transform="translate(455.8,1275.0) scale(26.10,201.9)" stroke="#ec6e50" stroke-opacity="0.87"/>
<use href="#g" transform="translate(452.9,1275.0) scale(26.12,201.7)" stroke="#ec6e50" stroke-opacity="0.88"/>
<use href="#g" transform="translate(451.8,1275.0) scale(26.13,200.8)" stroke="#ec6e50" stroke-opacity="0.89"/>
<use href="#g" transform="translate(449.4,1275.0) scale(26.15,199.9)" stroke="#ec6e50" stroke-opacity="0.90"/>
<use href="#g" transform="translate(452.7,1275.0) scale(26.17,199.0)" stroke="#ec6e50" stroke-opacity="0.91"/>
<use href="#g" transform="translate(450.5,1275.0) scale(26.18,198.5)" stroke="#ec6e50" stroke-opacity="0.92"/>
<use href="#g" transform="translate(449.2,1275.0) scale(26.20,200.3)" stroke="#ec6e50" stroke-opacity="0.93"/>
<use href="#g" transform="translate(448.1,1275.0) scale(26.22,200.5)" stroke="#ec6e50" stroke-opacity="0.94"/>
<use href="#g" transform="translate(446.1,1275.0) scale(26.23,201.1)" stroke="#ec6e50" stroke-opacity="0.96"/>
<use href="#g" transform="translate(447.1,1275.0) scale(26.25,199.8)" stroke="#ec6e50" stroke-opacity="0.97"/>
<use href="#g" transform="translate(442.2,1275.0) scale(26.27,200.0)" stroke="#ec6e50" stroke-opacity="0.98"/>
<use href="#g" transform="translate(445.1,1275.0) scale(26.28,198.5)" stroke="#ec6e50" stroke-opacity="0.99"/>
<use href="#g" transform="translate(442.0,1275.0) scale(26.30,199.0)" stroke="#ec6e50" stroke-opacity="1.00"/>
</g>
<g class="g" clip-path="url(#cpC)" stroke-width="5.2">
<use href="#g" transform="translate(1053.0,1275.0) scale(72.00,141.0)" stroke="#15a03c" stroke-opacity="0.10"/>
<use href="#g" transform="translate(971.8,1275.0) scale(75.00,81.0)" stroke="#15a03c" stroke-opacity="0.11"/>
<use href="#g" transform="translate(898.3,1275.0) scale(65.00,69.3)" stroke="#15a03c" stroke-opacity="0.11"/>
<use href="#g" transform="translate(799.6,1275.0) scale(57.00,73.5)" stroke="#15a03c" stroke-opacity="0.12"/>
<use href="#gl" transform="translate(671.5,1275.0) scale(38.00,101.0)" stroke="#15a03c" stroke-opacity="0.12"/>
<use href="#gr" transform="translate(671.5,1275.0) scale(60.00,101.0)" stroke="#15a03c" stroke-opacity="0.12"/>
<use href="#gl" transform="translate(655.0,1275.0) scale(32.00,125.0)" stroke="#15a03c" stroke-opacity="0.13"/>
<use href="#gr" transform="translate(655.0,1275.0) scale(50.00,125.0)" stroke="#15a03c" stroke-opacity="0.13"/>
<use href="#gl" transform="translate(646.1,1275.0) scale(28.00,140.0)" stroke="#15a03c" stroke-opacity="0.13"/>
<use href="#gr" transform="translate(646.1,1275.0) scale(42.00,140.0)" stroke="#15a03c" stroke-opacity="0.13"/>
<use href="#gl" transform="translate(637.1,1275.0) scale(25.00,152.0)" stroke="#15a03c" stroke-opacity="0.14"/>
<use href="#gr" transform="translate(637.1,1275.0) scale(36.00,152.0)" stroke="#15a03c" stroke-opacity="0.14"/>
<use href="#gl" transform="translate(628.1,1275.0) scale(22.00,165.0)" stroke="#15a03c" stroke-opacity="0.14"/>
<use href="#gr" transform="translate(628.1,1275.0) scale(31.00,165.0)" stroke="#15a03c" stroke-opacity="0.14"/>
<use href="#gl" transform="translate(617.6,1275.0) scale(19.00,180.0)" stroke="#15a03c" stroke-opacity="0.15"/>
<use href="#gr" transform="translate(617.6,1275.0) scale(27.00,180.0)" stroke="#15a03c" stroke-opacity="0.15"/>
<use href="#gl" transform="translate(607.2,1275.0) scale(17.00,195.0)" stroke="#15a03c" stroke-opacity="0.16"/>
<use href="#gr" transform="translate(607.2,1275.0) scale(23.00,195.0)" stroke="#15a03c" stroke-opacity="0.16"/>
<use href="#gl" transform="translate(598.2,1275.0) scale(16.00,207.0)" stroke="#15a03c" stroke-opacity="0.16"/>
<use href="#gr" transform="translate(598.2,1275.0) scale(19.50,207.0)" stroke="#15a03c" stroke-opacity="0.16"/>
<use href="#gl" transform="translate(590.7,1275.0) scale(15.00,214.0)" stroke="#15a03c" stroke-opacity="0.17"/>
<use href="#gr" transform="translate(590.7,1275.0) scale(17.00,214.0)" stroke="#15a03c" stroke-opacity="0.17"/>
<use href="#gl" transform="translate(584.7,1275.0) scale(14.50,219.0)" stroke="#15a03c" stroke-opacity="0.18"/>
<use href="#gr" transform="translate(584.7,1275.0) scale(16.00,219.0)" stroke="#15a03c" stroke-opacity="0.18"/>
<use href="#gl" transform="translate(581.7,1275.0) scale(14.00,221.0)" stroke="#15a03c" stroke-opacity="0.18"/>
<use href="#gr" transform="translate(581.7,1275.0) scale(15.00,221.0)" stroke="#15a03c" stroke-opacity="0.18"/>
<use href="#gl" transform="translate(583.2,1275.0) scale(14.00,224.5)" stroke="#15a03c" stroke-opacity="0.19"/>
<use href="#gr" transform="translate(583.2,1275.0) scale(14.75,224.5)" stroke="#15a03c" stroke-opacity="0.19"/>
<use href="#gl" transform="translate(584.7,1275.0) scale(14.00,228.0)" stroke="#15a03c" stroke-opacity="0.20"/>
<use href="#gr" transform="translate(584.7,1275.0) scale(14.50,228.0)" stroke="#15a03c" stroke-opacity="0.20"/>
<use href="#gl" transform="translate(587.0,1275.0) scale(13.90,234.0)" stroke="#15a03c" stroke-opacity="0.21"/>
<use href="#gr" transform="translate(587.0,1275.0) scale(14.25,234.0)" stroke="#15a03c" stroke-opacity="0.21"/>
<use href="#gl" transform="translate(589.2,1275.0) scale(13.80,240.0)" stroke="#15a03c" stroke-opacity="0.21"/>
<use href="#gr" transform="translate(589.2,1275.0) scale(14.00,240.0)" stroke="#15a03c" stroke-opacity="0.21"/>
<use href="#gl" transform="translate(591.0,1275.0) scale(13.75,248.5)" stroke="#15a03c" stroke-opacity="0.22"/>
<use href="#gr" transform="translate(591.0,1275.0) scale(13.85,248.5)" stroke="#15a03c" stroke-opacity="0.22"/>
<use href="#g" transform="translate(592.8,1275.0) scale(13.70,257.0)" stroke="#15a03c" stroke-opacity="0.23"/>
<use href="#g" transform="translate(595.5,1275.0) scale(13.70,263.5)" stroke="#15a03c" stroke-opacity="0.24"/>
<use href="#g" transform="translate(598.2,1275.0) scale(13.70,270.0)" stroke="#15a03c" stroke-opacity="0.24"/>
<use href="#g" transform="translate(600.2,1275.0) scale(13.70,277.5)" stroke="#15a03c" stroke-opacity="0.25"/>
<use href="#g" transform="translate(602.2,1275.0) scale(13.70,285.0)" stroke="#15a03c" stroke-opacity="0.26"/>
<use href="#g" transform="translate(602.4,1275.0) scale(13.67,288.0)" stroke="#15a03c" stroke-opacity="0.27"/>
<use href="#g" transform="translate(602.0,1275.0) scale(13.65,286.9)" stroke="#15a03c" stroke-opacity="0.28"/>
<use href="#g" transform="translate(602.3,1275.0) scale(13.62,290.5)" stroke="#15a03c" stroke-opacity="0.28"/>
<use href="#g" transform="translate(603.0,1275.0) scale(13.59,290.1)" stroke="#15a03c" stroke-opacity="0.29"/>
<use href="#g" transform="translate(604.5,1275.0) scale(13.57,296.1)" stroke="#15a03c" stroke-opacity="0.30"/>
<use href="#g" transform="translate(603.6,1275.0) scale(13.54,296.2)" stroke="#15a03c" stroke-opacity="0.31"/>
<use href="#g" transform="translate(604.3,1275.0) scale(13.51,298.8)" stroke="#15a03c" stroke-opacity="0.32"/>
<use href="#g" transform="translate(605.1,1275.0) scale(13.49,296.9)" stroke="#15a03c" stroke-opacity="0.33"/>
<use href="#g" transform="translate(604.4,1275.0) scale(13.46,297.1)" stroke="#15a03c" stroke-opacity="0.33"/>
<use href="#g" transform="translate(605.5,1275.0) scale(13.43,301.0)" stroke="#15a03c" stroke-opacity="0.34"/>
<use href="#g" transform="translate(604.9,1275.0) scale(13.41,302.5)" stroke="#15a03c" stroke-opacity="0.35"/>
<use href="#g" transform="translate(605.7,1275.0) scale(13.38,306.6)" stroke="#15a03c" stroke-opacity="0.36"/>
<use href="#g" transform="translate(605.5,1275.0) scale(13.35,309.6)" stroke="#15a03c" stroke-opacity="0.37"/>
<use href="#g" transform="translate(606.8,1275.0) scale(13.33,308.9)" stroke="#15a03c" stroke-opacity="0.38"/>
<use href="#g" transform="translate(607.1,1275.0) scale(13.30,312.0)" stroke="#15a03c" stroke-opacity="0.39"/>
<use href="#g" transform="translate(608.5,1275.0) scale(13.27,312.0)" stroke="#15a03c" stroke-opacity="0.40"/>
<use href="#g" transform="translate(607.9,1275.0) scale(13.24,314.7)" stroke="#15a03c" stroke-opacity="0.40"/>
<use href="#g" transform="translate(609.4,1275.0) scale(13.21,314.5)" stroke="#15a03c" stroke-opacity="0.41"/>
<use href="#g" transform="translate(609.4,1275.0) scale(13.18,319.6)" stroke="#15a03c" stroke-opacity="0.42"/>
<use href="#g" transform="translate(609.0,1275.0) scale(13.15,316.9)" stroke="#15a03c" stroke-opacity="0.43"/>
<use href="#g" transform="translate(608.7,1275.0) scale(13.12,321.5)" stroke="#15a03c" stroke-opacity="0.44"/>
<use href="#g" transform="translate(610.4,1275.0) scale(13.09,324.7)" stroke="#15a03c" stroke-opacity="0.45"/>
<use href="#g" transform="translate(611.3,1275.0) scale(13.06,322.1)" stroke="#15a03c" stroke-opacity="0.46"/>
<use href="#g" transform="translate(609.7,1275.0) scale(13.03,323.9)" stroke="#15a03c" stroke-opacity="0.47"/>
<use href="#g" transform="translate(610.1,1275.0) scale(13.00,328.2)" stroke="#15a03c" stroke-opacity="0.48"/>
<use href="#g" transform="translate(612.4,1275.0) scale(12.98,330.9)" stroke="#15a03c" stroke-opacity="0.49"/>
<use href="#g" transform="translate(610.9,1275.0) scale(12.96,332.2)" stroke="#15a03c" stroke-opacity="0.50"/>
<use href="#g" transform="translate(611.4,1275.0) scale(12.94,331.0)" stroke="#15a03c" stroke-opacity="0.51"/>
<use href="#g" transform="translate(612.9,1275.0) scale(12.92,330.5)" stroke="#15a03c" stroke-opacity="0.52"/>
<use href="#g" transform="translate(611.3,1275.0) scale(12.90,336.5)" stroke="#15a03c" stroke-opacity="0.53"/>
<use href="#g" transform="translate(612.1,1275.0) scale(12.88,335.1)" stroke="#15a03c" stroke-opacity="0.54"/>
<use href="#g" transform="translate(613.3,1275.0) scale(12.86,338.6)" stroke="#15a03c" stroke-opacity="0.55"/>
<use href="#g" transform="translate(611.9,1275.0) scale(12.84,338.0)" stroke="#15a03c" stroke-opacity="0.56"/>
<use href="#g" transform="translate(613.4,1275.0) scale(12.82,340.4)" stroke="#15a03c" stroke-opacity="0.57"/>
<use href="#g" transform="translate(613.0,1275.0) scale(12.80,342.5)" stroke="#15a03c" stroke-opacity="0.58"/>
<use href="#g" transform="translate(615.6,1275.0) scale(12.78,342.8)" stroke="#15a03c" stroke-opacity="0.59"/>
<use href="#g" transform="translate(614.8,1275.0) scale(12.76,342.7)" stroke="#15a03c" stroke-opacity="0.60"/>
<use href="#g" transform="translate(614.4,1275.0) scale(12.74,347.5)" stroke="#15a03c" stroke-opacity="0.61"/>
<use href="#g" transform="translate(614.2,1275.0) scale(12.72,350.3)" stroke="#15a03c" stroke-opacity="0.62"/>
<use href="#g" transform="translate(617.0,1275.0) scale(12.70,347.1)" stroke="#15a03c" stroke-opacity="0.63"/>
<use href="#g" transform="translate(617.5,1275.0) scale(12.68,350.2)" stroke="#15a03c" stroke-opacity="0.64"/>
<use href="#g" transform="translate(617.3,1275.0) scale(12.66,354.0)" stroke="#15a03c" stroke-opacity="0.65"/>
<use href="#g" transform="translate(616.3,1275.0) scale(12.64,355.1)" stroke="#15a03c" stroke-opacity="0.66"/>
<use href="#g" transform="translate(617.7,1275.0) scale(12.62,357.3)" stroke="#15a03c" stroke-opacity="0.67"/>
<use href="#g" transform="translate(616.9,1275.0) scale(12.60,358.5)" stroke="#15a03c" stroke-opacity="0.68"/>
<use href="#g" transform="translate(619.8,1275.0) scale(12.57,360.1)" stroke="#15a03c" stroke-opacity="0.69"/>
<use href="#g" transform="translate(619.3,1275.0) scale(12.54,358.9)" stroke="#15a03c" stroke-opacity="0.70"/>
<use href="#g" transform="translate(619.9,1275.0) scale(12.51,362.4)" stroke="#15a03c" stroke-opacity="0.71"/>
<use href="#g" transform="translate(621.3,1275.0) scale(12.48,366.5)" stroke="#15a03c" stroke-opacity="0.72"/>
<use href="#g" transform="translate(621.6,1275.0) scale(12.45,365.6)" stroke="#15a03c" stroke-opacity="0.73"/>
<use href="#g" transform="translate(622.6,1275.0) scale(12.42,370.4)" stroke="#15a03c" stroke-opacity="0.74"/>
<use href="#g" transform="translate(621.9,1275.0) scale(12.39,374.0)" stroke="#15a03c" stroke-opacity="0.75"/>
<use href="#g" transform="translate(624.1,1275.0) scale(12.36,371.5)" stroke="#15a03c" stroke-opacity="0.76"/>
<use href="#g" transform="translate(625.7,1275.0) scale(12.33,373.7)" stroke="#15a03c" stroke-opacity="0.77"/>
<use href="#g" transform="translate(624.6,1275.0) scale(12.30,379.3)" stroke="#15a03c" stroke-opacity="0.78"/>
<use href="#g" transform="translate(626.4,1275.0) scale(12.27,380.5)" stroke="#15a03c" stroke-opacity="0.79"/>
<use href="#g" transform="translate(627.5,1275.0) scale(12.24,382.1)" stroke="#15a03c" stroke-opacity="0.80"/>
<use href="#g" transform="translate(627.4,1275.0) scale(12.21,382.7)" stroke="#15a03c" stroke-opacity="0.81"/>
<use href="#g" transform="translate(627.6,1275.0) scale(12.18,388.1)" stroke="#15a03c" stroke-opacity="0.82"/>
<use href="#g" transform="translate(630.6,1275.0) scale(12.15,389.3)" stroke="#15a03c" stroke-opacity="0.83"/>
<use href="#g" transform="translate(631.5,1275.0) scale(12.12,390.4)" stroke="#15a03c" stroke-opacity="0.85"/>
<use href="#g" transform="translate(631.0,1275.0) scale(12.09,392.7)" stroke="#15a03c" stroke-opacity="0.86"/>
<use href="#g" transform="translate(633.8,1275.0) scale(12.06,392.9)" stroke="#15a03c" stroke-opacity="0.87"/>
<use href="#g" transform="translate(633.6,1275.0) scale(12.03,396.3)" stroke="#15a03c" stroke-opacity="0.88"/>
<use href="#g" transform="translate(635.4,1275.0) scale(12.00,399.1)" stroke="#15a03c" stroke-opacity="0.89"/>
<use href="#g" transform="translate(633.4,1275.0) scale(12.06,401.2)" stroke="#15a03c" stroke-opacity="0.90"/>
<use href="#g" transform="translate(633.4,1275.0) scale(12.12,405.2)" stroke="#15a03c" stroke-opacity="0.91"/>
<use href="#g" transform="translate(632.2,1275.0) scale(12.18,407.5)" stroke="#15a03c" stroke-opacity="0.92"/>
<use href="#g" transform="translate(630.8,1275.0) scale(12.24,405.8)" stroke="#15a03c" stroke-opacity="0.93"/>
<use href="#g" transform="translate(630.1,1275.0) scale(12.30,406.7)" stroke="#15a03c" stroke-opacity="0.94"/>
<use href="#g" transform="translate(631.5,1275.0) scale(12.36,412.2)" stroke="#15a03c" stroke-opacity="0.96"/>
<use href="#g" transform="translate(629.1,1275.0) scale(12.42,410.7)" stroke="#15a03c" stroke-opacity="0.97"/>
<use href="#g" transform="translate(629.2,1275.0) scale(12.48,415.9)" stroke="#15a03c" stroke-opacity="0.98"/>
<use href="#g" transform="translate(629.7,1275.0) scale(12.54,417.7)" stroke="#15a03c" stroke-opacity="0.99"/>
<use href="#g" transform="translate(628.1,1275.0) scale(12.60,418.0)" stroke="#15a03c" stroke-opacity="1.00"/>
</g>
<line x1="149" y1="1275" x2="1048" y2="1275" stroke="#15a03c" stroke-width="4.9"/>
<line x1="149.5" y1="883" x2="149.5" y2="1273.5" stroke="#000" stroke-width="7"/>
<line x1="448.6" y1="851" x2="448.6" y2="1283.5" stroke="#000" stroke-width="6.6"/>
<line x1="598.6" y1="851" x2="598.6" y2="1283.5" stroke="#000" stroke-width="6.6"/>
<text x="349.89" y="765.80" font-size="57.0" textLength="106.88" lengthAdjust="spacingAndGlyphs" fill="#e8521f" stroke="#fff" stroke-width="1.48">True</text>
<text x="274.08" y="829.00" font-size="53.2" textLength="30.09" lengthAdjust="spacingAndGlyphs" font-style="italic" fill="#e8521f" stroke="#e8521f" stroke-width="0.60" stroke-linejoin="round">θ</text>
<ellipse cx="314.15" cy="803.30" rx="5.85" ry="6.40" fill="none" stroke="#e8521f" stroke-width="2.00"/>
<text x="323.02" y="810.60" font-size="31.0" textLength="11.48" lengthAdjust="spacingAndGlyphs" fill="#e8521f" stroke="#fff" stroke-width="0.62">1</text>
<rect x="349.7" y="809.0" width="25.8" height="3.4" fill="#e8521f"/>
<rect x="349.7" y="819.0" width="25.8" height="3.3" fill="#e8521f"/>
<rect x="381.6" y="813.5" width="13.2" height="3.3" fill="#e8521f"/>
<path d="M413.2,792.0 L416.8,792.0 L416.8,828.4 L413.2,828.4 L413.2,797.1 Q409.1,801.5 404.1,803.3 L404.1,800.0 Q410.5,798.2 412.9,792.0 Z" fill="#e8521f"/>
<text x="426.08" y="828.80" font-size="53.2" textLength="30.28" lengthAdjust="spacingAndGlyphs" fill="#e8521f" stroke="#fff" stroke-width="1.38">0</text>
<text x="586.80" y="766.00" font-size="57.0" textLength="106.16" lengthAdjust="spacingAndGlyphs" fill="#169c40" stroke="#fff" stroke-width="1.48">True</text>
<text x="591.78" y="829.30" font-size="53.2" textLength="30.09" lengthAdjust="spacingAndGlyphs" font-style="italic" fill="#169c40" stroke="#169c40" stroke-width="0.60" stroke-linejoin="round">θ</text>
<ellipse cx="631.90" cy="803.45" rx="5.90" ry="6.15" fill="none" stroke="#169c40" stroke-width="2.00"/>
<text x="639.12" y="810.50" font-size="31.0" textLength="17.47" lengthAdjust="spacingAndGlyphs" fill="#169c40" stroke="#fff" stroke-width="0.62">2</text>
<rect x="667.4" y="808.9" width="26.4" height="3.3" fill="#169c40"/>
<rect x="667.4" y="818.8" width="26.4" height="3.3" fill="#169c40"/>
<text x="696.44" y="829.10" font-size="53.2" textLength="30.98" lengthAdjust="spacingAndGlyphs" fill="#169c40" stroke="#fff" stroke-width="1.38">0</text>
<text x="105.14" y="1334.30" font-size="49.5" textLength="77.62" lengthAdjust="spacingAndGlyphs">-30</text>
<text x="579.56" y="1334.30" font-size="49.5" textLength="30.54" lengthAdjust="spacingAndGlyphs">0</text>
<text x="975.68" y="1334.30" font-size="49.5" textLength="59.05" lengthAdjust="spacingAndGlyphs">30</text>
<text x="560.05" y="1418.80" font-size="64.5" textLength="38.70" lengthAdjust="spacingAndGlyphs" font-style="italic" stroke="#000" stroke-width="1.10" stroke-linejoin="round">θ</text>
<ellipse cx="612.15" cy="1387.75" rx="8.40" ry="8.50" fill="none" stroke="#000" stroke-width="2.50"/>
<use href="#hd" transform="translate(847.00,837.20) scale(0.9850)" fill="#9bacd4"/>
<use href="#tb" transform="translate(917.2,696.3) scale(1.02,1.03)"/>
<use href="#hd" transform="translate(991.40,725.80) scale(-0.4640,0.4640)" fill="#f6b08a"/>
<use href="#hd" transform="translate(1043.80,725.80) scale(-0.4630,0.4630)" fill="#92c89c"/>
<text x="823.75" y="1022.00" font-size="47.0" textLength="125.11" lengthAdjust="spacingAndGlyphs">Group</text>
<text x="809.24" y="1075.50" font-size="46.5" textLength="153.54" lengthAdjust="spacingAndGlyphs">(Indep.)</text>
<g class="g" clip-path="url(#cpD)" stroke-width="4.9">
<use href="#g" transform="translate(2006.9,1276.6) scale(102.00,88.0)" stroke="#c0e6ed"/>
<use href="#g" transform="translate(1870.6,1276.6) scale(78.00,47.0)" stroke="#bfe4ed"/>
<use href="#g" transform="translate(1731.2,1276.6) scale(76.00,48.0)" stroke="#bee2ec"/>
<use href="#g" transform="translate(1645.1,1276.6) scale(66.00,58.0)" stroke="#bce0eb"/>
<use href="#g" transform="translate(1576.5,1276.6) scale(50.00,81.6)" stroke="#badeea"/>
<use href="#g" transform="translate(1550.0,1276.6) scale(44.00,95.0)" stroke="#b9dcea"/>
<use href="#g" transform="translate(1532.9,1276.6) scale(39.00,110.0)" stroke="#b8dae9"/>
<use href="#g" transform="translate(1520.0,1276.6) scale(34.00,130.0)" stroke="#b6d8e8"/>
<use href="#g" transform="translate(1511.0,1276.6) scale(30.00,150.0)" stroke="#b4d6e8"/>
<use href="#g" transform="translate(1509.0,1276.6) scale(29.40,154.3)" stroke="#b3d4e7"/>
<use href="#g" transform="translate(1506.7,1276.6) scale(28.80,159.4)" stroke="#b2d2e6"/>
<use href="#g" transform="translate(1504.8,1276.6) scale(28.20,165.1)" stroke="#b0d0e5"/>
<use href="#g" transform="translate(1502.4,1276.6) scale(27.60,169.5)" stroke="#aecee5"/>
<use href="#g" transform="translate(1500.8,1276.6) scale(27.00,174.1)" stroke="#adcce4"/>
<use href="#g" transform="translate(1499.5,1276.6) scale(26.62,180.2)" stroke="#acc9e3"/>
<use href="#g" transform="translate(1498.3,1276.6) scale(26.25,183.5)" stroke="#aac7e3"/>
<use href="#g" transform="translate(1496.7,1276.6) scale(25.88,188.3)" stroke="#a8c5e2"/>
<use href="#g" transform="translate(1495.4,1276.6) scale(25.50,193.5)" stroke="#a7c3e1"/>
<use href="#g" transform="translate(1494.2,1276.6) scale(25.12,196.5)" stroke="#a6c1e0"/>
<use href="#g" transform="translate(1493.0,1276.6) scale(24.75,201.2)" stroke="#a4bfe0"/>
<use href="#g" transform="translate(1491.5,1276.6) scale(24.38,206.1)" stroke="#a2bddf"/>
<use href="#g" transform="translate(1489.6,1276.6) scale(24.00,210.5)" stroke="#a1bbde"/>
<use href="#g" transform="translate(1489.7,1276.6) scale(23.77,213.8)" stroke="#a0b9de"/>
<use href="#g" transform="translate(1489.2,1276.6) scale(23.54,217.6)" stroke="#9eb7dd"/>
<use href="#g" transform="translate(1488.4,1276.6) scale(23.31,221.6)" stroke="#9cb5dc"/>
<use href="#g" transform="translate(1487.8,1276.6) scale(23.08,225.4)" stroke="#9bb3db"/>
<use href="#g" transform="translate(1487.9,1276.6) scale(22.85,229.1)" stroke="#9ab1db"/>
<use href="#g" transform="translate(1487.4,1276.6) scale(22.62,234.0)" stroke="#98afda"/>
<use href="#g" transform="translate(1487.2,1276.6) scale(22.38,236.2)" stroke="#96add9"/>
<use href="#g" transform="translate(1486.6,1276.6) scale(22.15,241.0)" stroke="#94abd8"/>
<use href="#g" transform="translate(1485.5,1276.6) scale(21.92,244.3)" stroke="#93a9d7"/>
<use href="#g" transform="translate(1485.2,1276.6) scale(21.69,247.6)" stroke="#91a7d5"/>
<use href="#g" transform="translate(1485.0,1276.6) scale(21.46,253.2)" stroke="#8fa6d4"/>
<use href="#g" transform="translate(1484.4,1276.6) scale(21.23,256.9)" stroke="#8da4d3"/>
<use href="#g" transform="translate(1484.2,1276.6) scale(21.00,259.3)" stroke="#8ba2d2"/>
<use href="#g" transform="translate(1484.5,1276.6) scale(20.75,263.5)" stroke="#8aa0d1"/>
<use href="#g" transform="translate(1484.8,1276.6) scale(20.50,266.9)" stroke="#889ed0"/>
<use href="#g" transform="translate(1484.7,1276.6) scale(20.25,269.4)" stroke="#869cce"/>
<use href="#g" transform="translate(1484.9,1276.6) scale(20.00,273.9)" stroke="#849acd"/>
<use href="#g" transform="translate(1485.1,1276.6) scale(19.75,276.1)" stroke="#8298cc"/>
<use href="#g" transform="translate(1485.2,1276.6) scale(19.50,279.5)" stroke="#8196cb"/>
<use href="#g" transform="translate(1484.8,1276.6) scale(19.25,281.8)" stroke="#7f94ca"/>
<use href="#g" transform="translate(1484.9,1276.6) scale(19.00,285.4)" stroke="#7d92c9"/>
<use href="#g" transform="translate(1485.1,1276.6) scale(18.75,289.2)" stroke="#7b91c8"/>
<use href="#g" transform="translate(1485.7,1276.6) scale(18.50,292.6)" stroke="#798fc6"/>
<use href="#g" transform="translate(1485.6,1276.6) scale(18.25,296.0)" stroke="#788dc5"/>
<use href="#g" transform="translate(1485.7,1276.6) scale(18.00,298.9)" stroke="#768bc4"/>
<use href="#g" transform="translate(1486.2,1276.6) scale(17.75,302.1)" stroke="#7489c3"/>
<use href="#g" transform="translate(1485.9,1276.6) scale(17.50,306.3)" stroke="#7488c2"/>
<use href="#g" transform="translate(1486.5,1276.6) scale(17.25,308.5)" stroke="#7387c2"/>
<use href="#g" transform="translate(1486.3,1276.6) scale(17.00,312.1)" stroke="#7386c1"/>
<use href="#g" transform="translate(1486.7,1276.6) scale(16.75,314.7)" stroke="#7285c0"/>
<use href="#g" transform="translate(1486.3,1276.6) scale(16.50,317.9)" stroke="#7283bf"/>
<use href="#g" transform="translate(1487.2,1276.6) scale(16.25,321.0)" stroke="#7182bf"/>
<use href="#g" transform="translate(1487.0,1276.6) scale(16.00,324.4)" stroke="#7181be"/>
<use href="#g" transform="translate(1487.0,1276.6) scale(15.81,327.3)" stroke="#7080bd"/>
<use href="#g" transform="translate(1487.4,1276.6) scale(15.62,330.3)" stroke="#707fbc"/>
<use href="#g" transform="translate(1487.3,1276.6) scale(15.43,333.2)" stroke="#6f7ebc"/>
<use href="#g" transform="translate(1487.7,1276.6) scale(15.24,337.0)" stroke="#6f7dbb"/>
<use href="#g" transform="translate(1487.8,1276.6) scale(15.05,339.0)" stroke="#6e7cba"/>
<use href="#g" transform="translate(1488.4,1276.6) scale(14.86,342.8)" stroke="#6e7bb9"/>
<use href="#g" transform="translate(1488.8,1276.6) scale(14.67,345.1)" stroke="#6d7ab9"/>
<use href="#g" transform="translate(1488.8,1276.6) scale(14.48,348.8)" stroke="#6d78b8"/>
<use href="#g" transform="translate(1488.7,1276.6) scale(14.29,352.9)" stroke="#6c77b7"/>
<use href="#g" transform="translate(1489.1,1276.6) scale(14.10,354.2)" stroke="#6c76b6"/>
<use href="#g" transform="translate(1489.5,1276.6) scale(13.91,357.3)" stroke="#6b75b6"/>
<use href="#g" transform="translate(1489.9,1276.6) scale(13.72,360.7)" stroke="#6b74b5"/>
<use href="#g" transform="translate(1489.6,1276.6) scale(13.53,363.1)" stroke="#6b73b4"/>
<use href="#g" transform="translate(1490.4,1276.6) scale(13.34,366.6)" stroke="#6a72b4"/>
<use href="#g" transform="translate(1490.7,1276.6) scale(13.15,369.9)" stroke="#6a72b3"/>
<use href="#g" transform="translate(1491.0,1276.6) scale(12.96,372.6)" stroke="#6a71b3"/>
<use href="#g" transform="translate(1490.7,1276.6) scale(12.77,375.5)" stroke="#6970b2"/>
<use href="#g" transform="translate(1491.4,1276.6) scale(12.58,379.3)" stroke="#696fb2"/>
<use href="#g" transform="translate(1491.2,1276.6) scale(12.39,381.2)" stroke="#696eb1"/>
<use href="#g" transform="translate(1491.7,1276.6) scale(12.20,385.9)" stroke="#686db1"/>
<use href="#g" transform="translate(1491.8,1276.6) scale(12.09,385.9)" stroke="#686db0"/>
<use href="#g" transform="translate(1491.5,1276.6) scale(11.98,388.0)" stroke="#686cb0"/>
<use href="#g" transform="translate(1491.8,1276.6) scale(11.88,389.8)" stroke="#676baf"/>
<use href="#g" transform="translate(1491.9,1276.6) scale(11.77,393.0)" stroke="#676aae"/>
<use href="#g" transform="translate(1492.8,1276.6) scale(11.66,394.0)" stroke="#6769ae"/>
<use href="#g" transform="translate(1493.1,1276.6) scale(11.55,396.5)" stroke="#6669ad"/>
<use href="#g" transform="translate(1493.1,1276.6) scale(11.44,399.3)" stroke="#6668ad"/>
<use href="#g" transform="translate(1493.4,1276.6) scale(11.34,399.4)" stroke="#6667ac"/>
<use href="#g" transform="translate(1493.0,1276.6) scale(11.23,402.5)" stroke="#6566ac"/>
<use href="#g" transform="translate(1493.8,1276.6) scale(11.12,403.4)" stroke="#6565ab"/>
<use href="#g" transform="translate(1493.3,1276.6) scale(11.01,406.8)" stroke="#6564ab"/>
<use href="#g" transform="translate(1493.4,1276.6) scale(10.90,407.8)" stroke="#6464aa"/>
<use href="#g" transform="translate(1493.7,1276.6) scale(10.80,410.3)" stroke="#6463aa"/>
<use href="#g" transform="translate(1494.5,1276.6) scale(10.69,411.2)" stroke="#6462a9"/>
<use href="#g" transform="translate(1494.5,1276.6) scale(10.58,414.3)" stroke="#6361a8"/>
<use href="#g" transform="translate(1494.7,1276.6) scale(10.47,415.8)" stroke="#6360a8"/>
<use href="#g" transform="translate(1495.0,1276.6) scale(10.36,417.4)" stroke="#6360a7"/>
<use href="#g" transform="translate(1494.7,1276.6) scale(10.26,419.0)" stroke="#625fa7"/>
<use href="#g" transform="translate(1495.2,1276.6) scale(10.15,421.4)" stroke="#625ea6"/>
<use href="#g" transform="translate(1494.9,1276.6) scale(10.04,422.7)" stroke="#625da6"/>
<use href="#g" transform="translate(1495.5,1276.6) scale(9.93,425.5)" stroke="#615ca5"/>
<use href="#g" transform="translate(1495.7,1276.6) scale(9.82,427.0)" stroke="#615ba5"/>
<use href="#g" transform="translate(1495.7,1276.6) scale(9.72,428.5)" stroke="#615ba4"/>
<use href="#g" transform="translate(1496.1,1276.6) scale(9.61,430.1)" stroke="#605aa4"/>
<use href="#g" transform="translate(1496.1,1276.6) scale(9.50,433.0)" stroke="#6059a3"/>
</g>
<line x1="1085.6" y1="1276.6" x2="1984.6" y2="1276.6" stroke="#5d58a2" stroke-width="4"/>
<line x1="1385.2" y1="845" x2="1385.2" y2="1277.6" stroke="#000" stroke-width="6.6"/>
<line x1="1535" y1="845" x2="1535" y2="1277.6" stroke="#000" stroke-width="6.6"/>
<line x1="1496.4" y1="845.2" x2="1496.4" y2="1274.5" stroke="#000" stroke-width="3.9" stroke-dasharray="21.6,21.2" stroke-dashoffset="11.1"/>
<text x="1340.95" y="764.40" font-size="53.5" textLength="282.62" lengthAdjust="spacingAndGlyphs" stroke="#fff" stroke-width="1.39">Fixed-Effect</text>
<text x="1359.57" y="827.90" font-size="53.5" textLength="246.84" lengthAdjust="spacingAndGlyphs" stroke="#fff" stroke-width="1.39">Estimation</text>
<text x="1054.51" y="1333.80" font-size="49.5" textLength="75.29" lengthAdjust="spacingAndGlyphs">-30</text>
<text x="1509.76" y="1333.80" font-size="49.5" textLength="29.03" lengthAdjust="spacingAndGlyphs">0</text>
<text x="1931.81" y="1333.80" font-size="49.5" textLength="58.19" lengthAdjust="spacingAndGlyphs">30</text>
<text x="1490.62" y="1418.80" font-size="64.5" textLength="39.04" lengthAdjust="spacingAndGlyphs" font-style="italic" stroke="#000" stroke-width="1.10" stroke-linejoin="round">θ</text>
<ellipse cx="1543.30" cy="1389.30" rx="7.65" ry="8.05" fill="none" stroke="#000" stroke-width="2.50"/>
<use href="#hd" transform="translate(1750.90,847.60) scale(0.9820)" fill="#9bacd4"/>
<use href="#tb" transform="translate(1821,706.7) scale(1.02,1.03)"/>
<use href="#hd" transform="translate(1913.80,736.20) scale(-0.4600,0.4600)" fill="#f6b08a"/>
<use href="#hd" transform="translate(1930.70,735.90) scale(-0.4600,0.4600)" fill="#92c89c"/>
<clipPath id="cpO"><use href="#hd" transform="translate(1913.80,736.20) scale(-0.4600,0.4600)"/></clipPath>
<g clip-path="url(#cpO)">
<use href="#hd" transform="translate(1930.70,735.90) scale(-0.4600,0.4600)" fill="#98ac64"/>
</g>
<text x="1737.75" y="1022.00" font-size="47.0" textLength="125.11" lengthAdjust="spacingAndGlyphs">Group</text>
<text x="1729.74" y="1075.50" font-size="46.5" textLength="141.00" lengthAdjust="spacingAndGlyphs">(Mean)</text>
</svg></body></html>
